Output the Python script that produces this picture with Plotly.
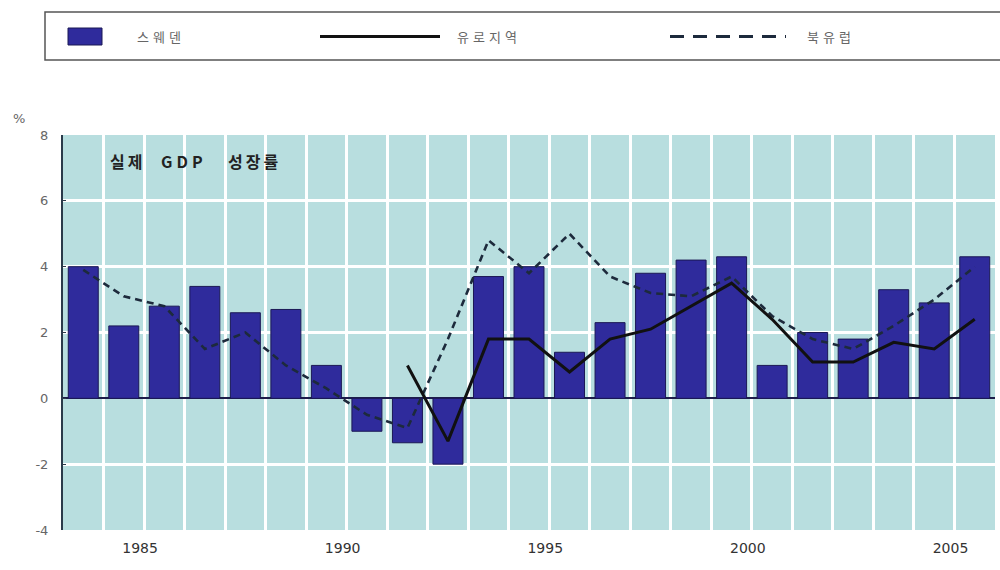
import plotly.graph_objects as go

# Annual real GDP growth (%), 1984-2006
years = list(range(1984, 2007))
sweden = [4.0, 2.2, 2.8, 3.4, 2.6, 2.7, 1.0, -1.0, -1.35, -2.0, 3.7, 4.0,
          1.4, 2.3, 3.8, 4.2, 4.3, 1.0, 2.0, 1.8, 3.3, 2.9, 4.3]
euro_area = [None, None, None, None, None, None, None, None,
             1.0, -1.3, 1.8, 1.8, 0.8, 1.8, 2.1, 2.8, 3.5, 2.4, 1.1, 1.1,
             1.7, 1.5, 2.4]
nordic = [3.9, 3.1, 2.8, 1.5, 2.0, 1.0, 0.3, -0.5, -0.9, 1.8, 4.8, 3.8,
          5.0, 3.7, 3.2, 3.1, 3.7, 2.5, 1.8, 1.5, 2.2, 3.0, 4.0]

series_names = ["스웨덴", "유로지역", "북유럽"]
label_years = [1985, 1990, 1995, 2000, 2005]
y_ticks = [-4, -2, 0, 2, 4, 6, 8]
title_words = ["실제", "GDP", "성장률"]

W, H = 1000, 570
ML, MR, MT, MB = 63, 5, 135, 40
PW, PH = W - ML - MR, H - MT - MB

KR = "Noto Sans CJK KR"
NUM = "DejaVu Sans, Liberation Sans, sans-serif"

BAR_COLOR = "#2f2b9c"
PLOT_BG = "#b8dedf"


def px(x):
    return (x - ML) / PW


def py(y):
    return (H - MB - y) / PH


def spaced(text, gap):
    return f'<span style="letter-spacing:{gap}px">{text}</span>'


fig = go.Figure()

fig.add_trace(go.Bar(
    x=years, y=sweden, name=series_names[0], width=0.74,
    marker=dict(color=BAR_COLOR, line=dict(color="#1b1855", width=1)),
    showlegend=False,
))
fig.add_trace(go.Scatter(
    x=years, y=nordic, name=series_names[2], mode="lines",
    line=dict(color="#1d2a3c", width=2.6, dash="7px,5px"),
    showlegend=False,
))
fig.add_trace(go.Scatter(
    x=years, y=euro_area, name=series_names[1], mode="lines",
    line=dict(color="#111111", width=3),
    connectgaps=False, showlegend=False,
))

# year boundaries carry the white grid; selected ones are labelled
bounds = [y + 0.5 for y in years]
bound_text = [str(y) if y in label_years else "" for y in years]

fig.update_xaxes(
    range=[1983.5, 2006.5],
    tickmode="array", tickvals=bounds, ticktext=bound_text,
    showgrid=True, gridcolor="white", gridwidth=2.5,
    showline=False, zeroline=False, ticks="",
    ticklabelshift=-4, ticklabelstandoff=8,
    tickfont=dict(family=NUM, size=14, color="#333333"),
)
fig.update_yaxes(
    range=[-4, 8], tickmode="array", tickvals=y_ticks,
    ticktext=[str(v) for v in y_ticks],
    showgrid=True, gridcolor="white", gridwidth=2.5,
    zeroline=True, zerolinecolor="#1d1d4a", zerolinewidth=2,
    showline=True, linecolor="#2a3a4a", linewidth=2,
    ticks="inside", ticklen=3, tickcolor="#2a3a4a",
    tickfont=dict(family=NUM, size=13, color="#666666"),
    ticklabelstandoff=10,
)

shapes = []
annotations = []

# legend frame across the top
shapes.append(dict(type="rect", xref="paper", yref="paper",
                   x0=px(45), x1=px(1010), y0=py(60), y1=py(12),
                   line=dict(color="#555555", width=1.5), fillcolor="white"))
# bar swatch
shapes.append(dict(type="rect", xref="paper", yref="paper",
                   x0=px(68), x1=px(102), y0=py(45), y1=py(28),
                   line=dict(color="#1b1855", width=1), fillcolor=BAR_COLOR))
# solid line swatch
shapes.append(dict(type="line", xref="paper", yref="paper",
                   x0=px(320), x1=px(440), y0=py(36.5), y1=py(36.5),
                   line=dict(color="#111111", width=3)))
# dashed line swatch
shapes.append(dict(type="line", xref="paper", yref="paper",
                   x0=px(670), x1=px(786), y0=py(36.5), y1=py(36.5),
                   line=dict(color="#1d2a3c", width=3, dash="14px,9px")))

for name, xpos in zip(series_names, [135, 455, 805]):
    annotations.append(dict(
        text=spaced(name, 4), xref="paper", yref="paper", x=px(xpos),
        y=py(36.5), xanchor="left", yanchor="middle", showarrow=False,
        font=dict(family=KR, size=13, color="#666666"),
    ))

# unit marker
annotations.append(dict(
    text="%", xref="paper", yref="paper", x=px(19), y=py(118),
    xanchor="center", yanchor="middle", showarrow=False,
    font=dict(family=NUM, size=13, color="#666666"),
))
# panel title, word by word
for word, xpos, gap in zip(title_words, [108, 159, 226], [3, 4, 3]):
    annotations.append(dict(
        text=f"<b>{spaced(word, gap)}</b>", xref="paper", yref="paper",
        x=px(xpos), y=py(161), xanchor="left", yanchor="middle",
        showarrow=False,
        font=dict(family=KR, size=16, color="#222222"),
    ))

fig.update_layout(
    width=W, height=H,
    margin=dict(l=ML, r=MR, t=MT, b=MB),
    paper_bgcolor="white", plot_bgcolor=PLOT_BG,
    bargap=0.26,
    shapes=shapes, annotations=annotations,
    showlegend=False,
)

fig.write_html("out.html")
